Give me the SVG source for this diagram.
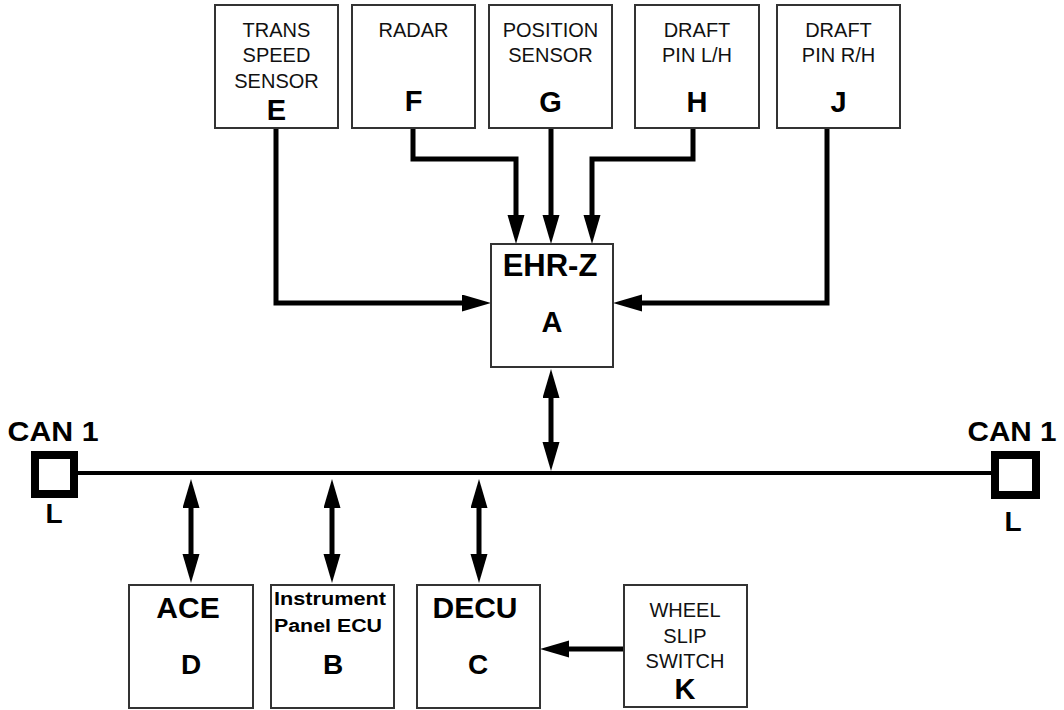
<svg xmlns="http://www.w3.org/2000/svg" width="1064" height="710" viewBox="0 0 1064 710">
<style>
.box{fill:#fff;stroke:#333;stroke-width:2}
.t{font-family:"Liberation Sans",Arial,sans-serif;font-size:20px;fill:#111;text-anchor:middle}
.b{font-family:"Liberation Sans",Arial,sans-serif;font-weight:bold;fill:#000;text-anchor:middle}
.c{fill:none;stroke:#000;stroke-width:5}
.term{fill:#fff;stroke:#000;stroke-width:8}
</style>
<defs>
<marker id="ah" markerUnits="userSpaceOnUse" markerWidth="30" markerHeight="18" refX="19" refY="8.5" orient="auto-start-reverse">
<path d="M0,0 L29,8.5 L0,17 z" fill="#000"/>
</marker>
</defs>
<rect width="1064" height="710" fill="#fff"/>

<g id="connectors">
<path d="M78,473 H991" fill="none" stroke="#000" stroke-width="4"/>
<path class="c" d="M276,128 V303 H481" marker-end="url(#ah)"/>
<path class="c" d="M413,128 V159 H516 V234" marker-end="url(#ah)"/>
<path class="c" d="M551,128 V234" marker-end="url(#ah)"/>
<path class="c" d="M693,128 V159 H592 V234" marker-end="url(#ah)"/>
<path class="c" d="M827,128 V303 H623" marker-end="url(#ah)"/>
<path class="c" d="M551,379 V461" marker-start="url(#ah)" marker-end="url(#ah)"/>
<path class="c" d="M191,489 V573" marker-start="url(#ah)" marker-end="url(#ah)"/>
<path class="c" d="M332,489 V573" marker-start="url(#ah)" marker-end="url(#ah)"/>
<path class="c" d="M479,489 V573" marker-start="url(#ah)" marker-end="url(#ah)"/>
<path class="c" d="M624,649 H550" marker-end="url(#ah)"/>
</g>

<g id="nodeE">
<rect class="box" x="215" y="5" width="123" height="123"/>
<text class="t" x="276.5" y="37">TRANS</text>
<text class="t" x="276.5" y="62">SPEED</text>
<text class="t" x="276.5" y="88">SENSOR</text>
<text class="b" x="276.5" y="120" font-size="29">E</text>
</g>
<g id="nodeF">
<rect class="box" x="352" y="5" width="123" height="123"/>
<text class="t" x="413.5" y="37">RADAR</text>
<text class="b" x="413.5" y="111" font-size="29">F</text>
</g>
<g id="nodeG">
<rect class="box" x="489" y="5" width="123" height="123"/>
<text class="t" x="550.5" y="37">POSITION</text>
<text class="t" x="550.5" y="62">SENSOR</text>
<text class="b" x="550.5" y="112" font-size="29">G</text>
</g>
<g id="nodeH">
<rect class="box" x="635" y="5" width="124" height="123"/>
<text class="t" x="697" y="37">DRAFT</text>
<text class="t" x="697" y="62">PIN L/H</text>
<text class="b" x="697" y="112" font-size="29">H</text>
</g>
<g id="nodeJ">
<rect class="box" x="777" y="5" width="123" height="123"/>
<text class="t" x="838.5" y="37">DRAFT</text>
<text class="t" x="838.5" y="62">PIN R/H</text>
<text class="b" x="838.5" y="112" font-size="29">J</text>
</g>
<g id="nodeA">
<rect class="box" x="491" y="244" width="122" height="123"/>
<text class="b" x="550" y="276" font-size="31">EHR-Z</text>
<text class="b" x="552" y="332" font-size="29">A</text>
</g>
<g id="canL">
<text class="b" x="53" y="441" font-size="27" textLength="91" lengthAdjust="spacingAndGlyphs">CAN 1</text>
<rect class="term" x="35" y="455" width="39" height="39"/>
<text class="b" x="54" y="523" font-size="28">L</text>
</g>
<g id="canR">
<text class="b" x="1012" y="441" font-size="27" textLength="89" lengthAdjust="spacingAndGlyphs">CAN 1</text>
<rect class="term" x="995" y="455" width="41" height="40"/>
<text class="b" x="1013" y="531" font-size="28">L</text>
</g>
<g id="nodeD">
<rect class="box" x="129" y="585" width="124" height="123"/>
<text class="b" x="188" y="618" font-size="30">ACE</text>
<text class="b" x="191" y="674" font-size="28">D</text>
</g>
<g id="nodeB">
<rect class="box" x="271" y="585" width="123" height="123"/>
<text class="b" x="330" y="605" font-size="18" textLength="112" lengthAdjust="spacingAndGlyphs">Instrument</text>
<text class="b" x="328" y="632" font-size="18" textLength="108" lengthAdjust="spacingAndGlyphs">Panel ECU</text>
<text class="b" x="333" y="674" font-size="28">B</text>
</g>
<g id="nodeC">
<rect class="box" x="417" y="585" width="123" height="123"/>
<text class="b" x="475" y="618" font-size="30">DECU</text>
<text class="b" x="478" y="674" font-size="28">C</text>
</g>
<g id="nodeK">
<rect class="box" x="624" y="585" width="123" height="122"/>
<text class="t" x="685" y="617">WHEEL</text>
<text class="t" x="685" y="643">SLIP</text>
<text class="t" x="685" y="668">SWITCH</text>
<text class="b" x="685" y="699" font-size="29">K</text>
</g>
</svg>
